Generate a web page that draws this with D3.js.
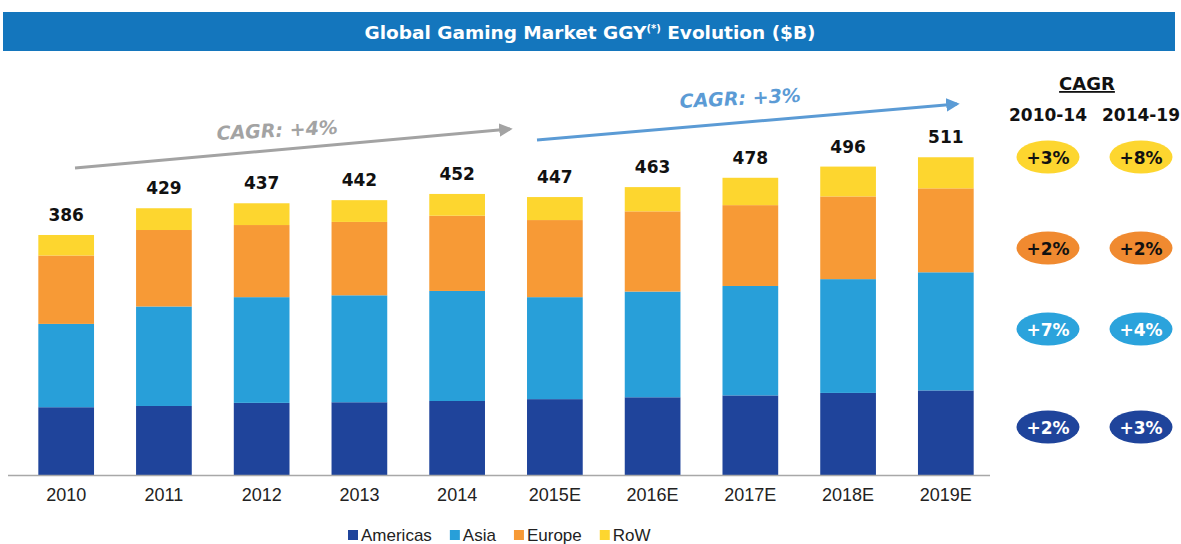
<!DOCTYPE html>
<html>
<head>
<meta charset="utf-8">
<script src="https://cdn.jsdelivr.net/npm/d3@7"></script>
<style>
  body { margin: 0; background: #fff; }
  svg { display: block; }
</style>
</head>
<body>
<div id="chart"></div>
<script>
// chart data ($B)
var years = ["2010", "2011", "2012", "2013", "2014", "2015E", "2016E", "2017E", "2018E", "2019E"];
var americas = [109, 111, 116, 117, 119, 122, 125, 128, 132, 136];
var asia     = [134, 160, 170, 172, 177, 164, 170, 176, 183, 190];
var europe   = [110, 123, 116, 118, 121, 124, 129, 130, 133, 135];
var row      = [33, 35, 35, 35, 35, 37, 39, 44, 48, 50];
var totals   = [386, 429, 437, 442, 452, 447, 463, 478, 496, 511];

var seriesNames = ["Americas", "Asia", "Europe", "RoW"];
var cagr1014 = ["+2%", "+7%", "+2%", "+3%"];
var cagr1419 = ["+3%", "+4%", "+2%", "+8%"];
var trendLabels = ["CAGR: +4%", "CAGR: +3%"];

var width = 1181, height = 544;
var colors = { Americas: "#1f449b", Asia: "#289fd9", Europe: "#f79a36", RoW: "#fdd62f" };
var pillColors = { Americas: "#1f449b", Asia: "#2ba3dc", Europe: "#f08a30", RoW: "#fdd62f" };
var pillText = { Americas: "#fff", Asia: "#fff", Europe: "#111", RoW: "#111" };
var boldFont = "'DejaVu Sans', sans-serif";
var plainFont = "'Liberation Sans', Arial, sans-serif";

var svg = d3.select("#chart").append("svg")
  .attr("width", width)
  .attr("height", height);

// title band
svg.append("rect")
  .attr("x", 3).attr("y", 12)
  .attr("width", 1172).attr("height", 39)
  .attr("fill", "#1476bd");

var title = svg.append("text")
  .attr("x", 590).attr("y", 39)
  .attr("text-anchor", "middle")
  .attr("fill", "#fff")
  .style("font-family", boldFont)
  .style("font-weight", "bold")
  .style("font-size", "18.5px");
title.append("tspan").text("Global Gaming Market GGY");
title.append("tspan").attr("dy", -7).style("font-size", "10px").text("(*)");
title.append("tspan").attr("dy", 7).text(" Evolution ($B)");

// scales
var x = d3.scaleBand()
  .domain(years)
  .range([9, 1003])
  .paddingInner(0.43)
  .paddingOuter(0.3);

var y = d3.scaleLinear()
  .domain([0, 600])
  .range([475, 475 - 600 * 0.6218]);

var table = years.map(function(yr, i) {
  return { year: yr, Americas: americas[i], Asia: asia[i], Europe: europe[i], RoW: row[i], total: totals[i] };
});

var stack = d3.stack().keys(seriesNames);
var layers = stack(table);

var g = svg.append("g");

g.selectAll("g.layer")
  .data(layers)
  .enter()
  .append("g")
  .attr("class", "layer")
  .attr("fill", function(d) { return colors[d.key]; })
  .selectAll("rect")
  .data(function(d) { return d; })
  .enter()
  .append("rect")
  .attr("x", function(d) { return x(d.data.year); })
  .attr("y", function(d) { return y(d[1]); })
  .attr("width", x.bandwidth())
  .attr("height", function(d) { return y(d[0]) - y(d[1]); });

// baseline + year labels
svg.append("line")
  .attr("x1", 8).attr("x2", 990)
  .attr("y1", y(0) + 0.5).attr("y2", y(0) + 0.5)
  .attr("stroke", "#a8a8a8")
  .attr("stroke-width", 1.5);

var xAxis = d3.axisBottom(x).tickSize(0).tickPadding(0);
var ax = svg.append("g")
  .attr("transform", "translate(0," + (y(0) + 13) + ")")
  .call(xAxis);
ax.select(".domain").remove();
ax.selectAll("text")
  .attr("fill", "#222")
  .style("font-family", plainFont)
  .style("font-size", "18px");

// totals above the bars
g.selectAll("text.total")
  .data(table)
  .enter()
  .append("text")
  .attr("class", "total")
  .attr("x", function(d) { return x(d.year) + x.bandwidth() / 2; })
  .attr("y", function(d) { return y(d.total) - 14; })
  .attr("text-anchor", "middle")
  .attr("fill", "#111")
  .style("font-family", boldFont)
  .style("font-weight", "bold")
  .style("font-size", "17px")
  .text(function(d) { return d.total; });

// CAGR trend arrows
svg.append("defs").selectAll("marker")
  .data([["grey", "#a3a3a3"], ["blue", "#5b9bd5"]])
  .enter()
  .append("marker")
  .attr("id", function(d) { return "arr-" + d[0]; })
  .attr("viewBox", "0 0 10 10")
  .attr("refX", 8).attr("refY", 5)
  .attr("markerWidth", 4.5).attr("markerHeight", 4.5)
  .attr("orient", "auto")
  .append("path")
  .attr("d", "M0,0 L10,5 L0,10 z")
  .attr("fill", function(d) { return d[1]; });

var arrows = [
  { x1: 75, y1: 168, x2: 510, y2: 129, color: "#a3a3a3", id: "grey", tx: 217, ty: 140, label: trendLabels[0] },
  { x1: 537, y1: 140, x2: 957, y2: 104, color: "#5b9bd5", id: "blue", tx: 680, ty: 108, label: trendLabels[1] }
];

arrows.forEach(function(a) {
  svg.append("line")
    .attr("x1", a.x1).attr("y1", a.y1)
    .attr("x2", a.x2).attr("y2", a.y2)
    .attr("stroke", a.color)
    .attr("stroke-width", 3)
    .attr("marker-end", "url(#arr-" + a.id + ")");
  svg.append("text")
    .attr("transform", "translate(" + a.tx + "," + a.ty + ") rotate(-3)")
    .attr("fill", a.color)
    .style("font-family", boldFont)
    .style("font-weight", "bold")
    .style("font-style", "italic")
    .style("font-size", "19px")
    .text(a.label);
});

// CAGR panel on the right
svg.append("text")
  .attr("x", 1087).attr("y", 90)
  .attr("text-anchor", "middle")
  .attr("fill", "#111")
  .style("font-family", boldFont)
  .style("font-weight", "bold")
  .style("font-size", "18px")
  .style("text-decoration", "underline")
  .text("CAGR");

var colX = [1048, 1141];
svg.selectAll("text.period")
  .data(["2010-14", "2014-19"])
  .enter()
  .append("text")
  .attr("class", "period")
  .attr("x", function(d, i) { return colX[i]; })
  .attr("y", 121)
  .attr("text-anchor", "middle")
  .attr("fill", "#111")
  .style("font-family", boldFont)
  .style("font-weight", "bold")
  .style("font-size", "17px")
  .text(function(d) { return d; });

var rowY = { RoW: 157, Europe: 248, Asia: 329, Americas: 427 };
var pills = [];
seriesNames.forEach(function(s, i) {
  pills.push({ s: s, col: 0, v: cagr1014[i] });
  pills.push({ s: s, col: 1, v: cagr1419[i] });
});

var pill = svg.selectAll("g.pill")
  .data(pills)
  .enter()
  .append("g")
  .attr("class", "pill")
  .attr("transform", function(d) { return "translate(" + colX[d.col] + "," + rowY[d.s] + ")"; });

pill.append("ellipse")
  .attr("rx", 31.5).attr("ry", 16.5)
  .attr("fill", function(d) { return pillColors[d.s]; });

pill.append("text")
  .attr("y", 6.5)
  .attr("text-anchor", "middle")
  .attr("fill", function(d) { return pillText[d.s]; })
  .style("font-family", boldFont)
  .style("font-weight", "bold")
  .style("font-size", "17px")
  .text(function(d) { return d.v; });

// legend (sits right on the bottom edge, as in the source)
var legend = svg.append("g").attr("transform", "translate(348,541)");
var lx = 0;
seriesNames.forEach(function(s) {
  var item = legend.append("g").attr("transform", "translate(" + lx + ",0)");
  item.append("rect")
    .attr("x", 0).attr("y", -11)
    .attr("width", 10).attr("height", 10)
    .attr("fill", colors[s]);
  var t = item.append("text")
    .attr("x", 13)
    .attr("fill", "#222")
    .style("font-family", plainFont)
    .style("font-size", "17px")
    .text(s);
  lx += 13 + t.node().getComputedTextLength() + 18;
});
</script>
</body>
</html>
